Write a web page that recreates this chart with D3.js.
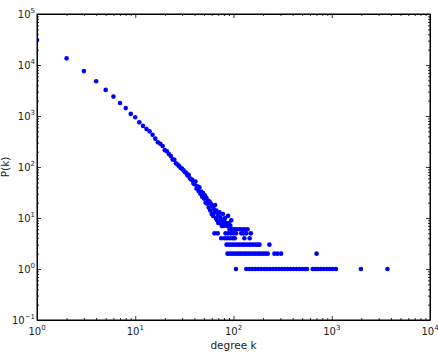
<!DOCTYPE html>
<html>
<head>
<meta charset="utf-8">
<script src="https://cdn.jsdelivr.net/npm/d3@7"></script>
<style>
  body { margin: 0; background: #fff; }
  svg { display: block; font-family: "DejaVu Sans", sans-serif; }
</style>
</head>
<body>
<svg id="chart" width="438" height="352"></svg>
<script>
// degree distribution
// head: degrees with many nodes
const headDegree = [1,2,3,4,5,6,7,8,9,10,11,12,13,14,15,16,17,18,19,20,
    21,22,23,24,25,26,27,28,29,30,31,32,33,34,35,36,37,38,39,40,
    41,42,43,44,45,46,47,48,49,50,51,52,53,54,55,56,57,58,59,60,
    61,62,63,64,65,66,67,68,69,70,71,72,73,74,75,76,77,78,79,80,
    82,84,86,88,90,93,95];
const headCount = [31000,13500,7600,4800,3250,2400,1800,1430,1100,945,750,640,556,500,430,360,305,286,258,214,
    204,180,164,141,138,118,112,104,96,92,86,80,76,68,70,60,57,56,48,46,
    52,38,42,34,40,30,33,26,31,24,28,20,25,19,22,16,21,14,19,12,
    17,11,15,13,18,10,14,9,12,8,11,13,8,10,9,7,8,12,7,9,
    10,8,7,11,8,7,9];

// tail: degrees sharing a small count
const tail6 = [91, 96, 102, 108, 115, 122, 130, 139];
const tail5 = [64, 69, 83, 88, 94, 100, 106, 120, 127, 135, 150];
const tail4 = [75, 81, 86, 92, 98, 103, 129, 146];
const tail3 = [85, 90, 95, 100, 106, 112, 118, 125, 132, 140, 148, 157, 166, 175, 184, 232];
const tail2 = [87, 92, 97, 103, 109, 115, 121, 128, 135, 143, 151, 160, 169, 179, 189, 200, 211, 223, 261, 280, 305, 701];
const tail1 = [106, 135, 145, 155, 166, 178, 191, 205, 219, 235, 252, 270, 289, 310, 332, 356, 381, 409, 438, 469, 503, 539, 560,
    640, 680, 723, 775, 830, 890, 954, 1020, 1104, 1980, 3690];

const xDecades = [0, 1, 2, 3, 4];
const yDecades = [-1, 0, 1, 2, 3, 4, 5];

let data = headDegree.map(function(k, i) { return {k: k, p: headCount[i]}; });
[[6, tail6], [5, tail5], [4, tail4], [3, tail3], [2, tail2], [1, tail1]].forEach(function(t) {
    t[1].forEach(function(k) { data.push({k: k, p: t[0]}); });
});

let margin = {top: 14, right: 8, bottom: 32, left: 37},
    width = 438 - margin.left - margin.right,
    height = 352 - margin.top - margin.bottom;

let x = d3.scaleLog().domain([1, 1e4]).range([0, width]);
let y = d3.scaleLog().domain([0.1, 1e5]).range([height, 0]);

let svg = d3.select("#chart").append("g")
    .attr("transform", "translate(" + margin.left + "," + margin.top + ")");

svg.append("clipPath").attr("id", "clip")
  .append("rect").attr("width", width).attr("height", height);

// points
svg.append("g").attr("clip-path", "url(#clip)")
  .selectAll("circle")
  .data(data)
  .enter().append("circle")
    .attr("cx", function(d) { return x(d.k); })
    .attr("cy", function(d) { return y(d.p); })
    .attr("r", 2.3)
    .style("fill", "#0000ff");

// tick positions
function minors(decs) {
    let out = [];
    decs.slice(0, -1).forEach(function(e) {
        for (let m = 2; m <= 9; m++) out.push(m * Math.pow(10, e));
    });
    return out;
}
let xMajor = xDecades.map(function(e) { return Math.pow(10, e); }),
    yMajor = yDecades.map(function(e) { return Math.pow(10, e); }),
    xMinor = minors(xDecades),
    yMinor = minors(yDecades);

function tickAxis(axisFn, scale, vals, size) {
    return axisFn(scale).tickValues(vals).tickSizeInner(-size).tickSizeOuter(0).tickFormat("");
}

let axes = [
    [d3.axisBottom, x, "translate(0," + height + ")"],
    [d3.axisTop, x, "translate(0,0)"],
    [d3.axisLeft, y, "translate(0,0)"],
    [d3.axisRight, y, "translate(" + width + ",0)"]
];
axes.forEach(function(a) {
    let isX = a[1] === x;
    svg.append("g").attr("transform", a[2])
        .call(tickAxis(a[0], a[1], isX ? xMajor : yMajor, 4));
    svg.append("g").attr("transform", a[2])
        .call(tickAxis(a[0], a[1], isX ? xMinor : yMinor, 2))
        .select(".domain").remove();
});
svg.selectAll(".tick line").style("stroke", "#000").style("stroke-width", 0.8);
svg.selectAll(".domain").style("stroke", "#000").style("stroke-width", 1);

svg.append("rect")
    .attr("width", width).attr("height", height)
    .style("fill", "none").style("stroke", "#000").style("stroke-width", 1);

// tick labels with superscripts
function expText(e) { return e < 0 ? "\u2212" + Math.abs(e) : String(e); }

let xl = svg.selectAll(".xlab").data(xDecades).enter().append("text")
    .attr("class", "xlab")
    .attr("x", function(e) { return x(Math.pow(10, e)); })
    .attr("y", height + 15)
    .attr("text-anchor", "middle")
    .attr("font-size", 10)
    .style("fill", "#222");
xl.append("tspan").text("10");
xl.append("tspan").attr("dy", -5).attr("font-size", 7).text(expText);

let yl = svg.selectAll(".ylab").data(yDecades).enter().append("text")
    .attr("class", "ylab")
    .attr("x", -2)
    .attr("y", function(e) { return y(Math.pow(10, e)) + 4; })
    .attr("text-anchor", "end")
    .attr("font-size", 10)
    .style("fill", "#222");
yl.append("tspan").text("10");
yl.append("tspan").attr("dy", -5).attr("font-size", 7).text(expText);

// axis titles
svg.append("text")
    .attr("x", width / 2)
    .attr("y", height + 29)
    .attr("text-anchor", "middle")
    .attr("font-size", 10.5)
    .style("fill", "#222")
    .text("degree k");

svg.append("text")
    .attr("transform", "translate(" + (-28) + "," + (height / 2) + ") rotate(-90)")
    .attr("text-anchor", "middle")
    .attr("font-size", 10.5)
    .style("fill", "#222")
    .text("P(k)");
</script>
</body>
</html>
